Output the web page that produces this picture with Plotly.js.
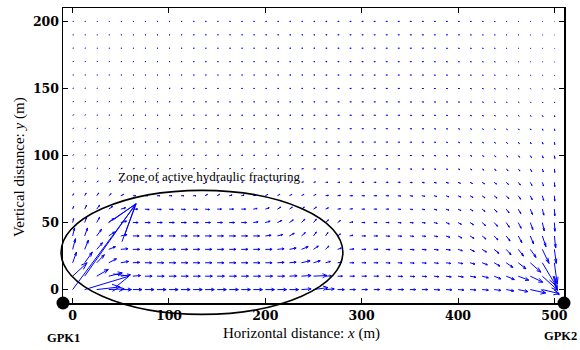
<!DOCTYPE html>
<html><head><meta charset="utf-8">
<script src="https://cdn.plot.ly/plotly-3.0.1.min.js"></script>
<style>html,body{margin:0;padding:0;background:#fff}#chart{width:580px;height:350px}</style>
</head><body><div id="chart"></div>
<script>
// grid of arrow tails (m)
const xGrid = [0,12.5,25,37.5,50,62.5,75,87.5,100,112.5,125,137.5,150,162.5,175,187.5,200,212.5,225,237.5,250,262.5,275,287.5,300,312.5,325,337.5,350,362.5,375,387.5,400,412.5,425,437.5,450,462.5,475,487.5,500];
const yGrid = [0,10,20,30,40,50,60,70,80,90,100,110,120,130,140,150,160,170,180,190,200];

// arrow components (as drawn, in axis units), one row per y
const u_y0 = [66,46,24,16,11, 9.5,9.5,9.5,9.5,9.5, 9.5,9.5,9.5,9.5,9.5, 9.5,9.5,9.5,9.5,10, 15,9,7,6,6, 6,6,6,6,6, 6,6,6,6,6.5, 7,8,10,16,17.5, 5];
const v_y0 = [64,10,2,0.5,0, 0,0,0,0,0, 0,0,0,0,0, 0,0,0,0,0.5, 1.5,0.5,0,0,0, 0,0,0,0,0, -0.2,-0.2,-0.3,-0.3,-0.4, -0.6,-1,-1.5,-2.5,-3, -4];
const u_y10 = [15,53,12,14,10, 8,7.5,7.5,7.5,7.5, 7.5,7.5,7.5,7.5,7.5, 7.5,7.5,7.5,8,10, 14,6,5,5,5, 5,5,5,5,5, 5,5.5,5.5,6,6.5, 7,8.5,11,13,16, 3];
const v_y10 = [10,54,5,2.5,1, 0.5,0,0,0,0, 0,0,0,0,0, 0,0,0,0.3,0.5, 0.5,0.3,0,0,0, 0,-0.2,-0.2,-0.3,-0.3, -0.4,-0.5,-0.6,-0.8,-1.2, -2,-2.5,-3,-4.5,-10.5, -10.5];
const u_y20 = [4,8,8,8,8, 7,7,7,7,7, 7,7,7,7,7, 7,7,7,7,9, 7,5,4.5,4.5,4.5, 4.5,4.5,4.5,4.5,4.5, 4.5,5,5,5,5.5, 6,7,8,11,14, 3];
const v_y20 = [8,8,6,3,1, 0.3,0,0,0,0, 0,0,0,0,0, 0,0,0.3,0.5,1.5, 1.5,1,0.3,0,0, 0,-0.2,-0.2,-0.3,-0.3, -0.4,-0.5,-0.6,-1,-1.5, -2.5,-3.5,-4.5,-7,-17, -16];
const u_y30 = [3,4,6,7,7.5, 7,7,7,7,7, 7,7,7,7,7, 7,7,7,7,7, 5,3.5,4,4.5,4.5, 4.5,4.5,4.5,4.5,4.5, 4.5,4.5,4.5,4.5,4.5, 5,5,5.5,6,7, 2];
const v_y30 = [8,7,5,2,0.5, 0,0,0,0,0, 0,0,0,0,0, 0,0,0.5,1,2, 2.5,2.5,1,0.3,0, 0,-0.2,-0.2,-0.3,-0.3, -0.4,-0.5,-1,-1.5,-2, -3,-4,-5,-6,-10.5, -10.5];
const u_y40 = [2,3,5,6,6.5, 6.5,6.5,6.5,6.5,6.5, 6.5,6.5,6.5,6.5,6.5, 6.5,6,5.5,5,4, 3,2.5,3,3.5,4, 4,4,4,4,4, 4,4,4,4,4, 4,4,3.8,3.5,3.8, 1.4];
const v_y40 = [6,6,5,3,1, 0,0,0,0,0, 0,0,0,0,0, 0,0.5,1,2,2.5, 3,2.5,1.5,0.5,0, 0,-0.2,-0.2,-0.3,-0.3, -0.5,-1,-1.5,-1.8,-2.3, -3,-3.8,-5,-6,-8, -9];
const u_y50 = [1,2,3,5,6, 5.5,5.5,5.5,5.5,5.5, 5.5,5.5,5.5,5.5,5.5, 5,5,4.5,4,3.5, 3,3,3,3.5,3.5, 3.5,3.5,3.5,3.5,3.5, 3.5,3.5,3.5,3.5,3.5, 3.5,3.3,3,2.7,2, 0.6];
const v_y50 = [3,4,4,3,1, 0,0,0,0,0, 0,0,0,0,0, 0.5,1,1.5,2,2.5, 2.5,2,1.5,0.5,0, 0,0,-0.2,-0.2,-0.3, -0.6,-1,-1.3,-1.7,-2.2, -2.8,-3.5,-4.3,-5.2,-6.2, -6.5];
const u_y60 = [1,2,3,4,5, 5,4.5,4.5,4.5,4.5, 4.5,4.5,4.5,4.5,4.5, 4,4,3.5,3,3, 3,3,3,3,3, 3,3,3,3,3, 3,3,3,3,3, 3,3,2.7,2.3,1.6, 0.5];
const v_y60 = [2,3,3,2,1, 0,-0.3,-0.3,-0.3,-0.3, -0.3,-0.3,0,0,0, 0.5,1,1.5,1.5,1.5, 1.5,1,0.3,0.3,0, 0,0,-0.2,-0.3,-0.4, -0.6,-0.8,-1,-1.3,-1.7, -2.2,-2.8,-3.3,-4,-4.5, -5];
const u_y70 = [1,1.5,2,2.5,3, 3,3,3,3,3, 3,2.5,2.5,3,3, 3,2.5,2.5,2.5,2.5, 2.5,3,3,3,3, 3,3,3,3,3, 3,3,3,3,3, 3,2.8,2.5,2,1.4, 0.4];
const v_y70 = [1.5,2,2,1.5,1, 0,0,0,0,0, 0,1,1,0.5,0.5, 0.5,1,1,1,1, 1,0.3,0.3,0,0, 0,0,-0.2,-0.3,-0.4, -0.6,-0.8,-1,-1.3,-1.6, -1.8,-2.2,-2.6,-3,-3.5, -4];
const u_y80 = [0.8,1,1.5,2,2, 2,2,2,2,2, 2,2,2,2,2, 2,2,2,2,2, 2,2.5,2.5,2.5,2.5, 2.5,2.5,2.5,2.5,2.5, 2.5,2.5,2.5,2.5,2.5, 2.5,2.4,2.2,1.8,1.3, 0.4];
const v_y80 = [1,1,1,1,0.5, 0.3,0.3,0.3,0.3,0.3, 0.3,0.3,0.3,0.3,0.3, 0.3,0.3,0.3,0.3,0.3, 0.3,0,0,0,0, 0,0,0,-0.2,-0.3, -0.4,-0.5,-0.7,-0.9,-1.1, -1.3,-1.6,-2,-2.4,-2.8, -3.2];
const u_y90 = [0.9,0.9,1,1.2,1.5, 1.5,1.5,1.5,1.5,1.5, 1.5,1.5,1.5,1.5,1.5, 1.5,1.5,1.5,1.5,2, 2,2,2,2,2, 2,2,2,2,2, 2,2,2,2,2, 2,2,1.8,1.5,1.1, 0.4];
const v_y90 = [0.7,0.7,0.7,0.5,0.5, 0.3,0.3,0.3,0.3,0.3, 0.3,0.3,0.3,0.3,0.3, 0.3,0.3,0.3,0.3,0.2, 0,0,0,0,0, 0,0,0,-0.2,-0.2, -0.3,-0.4,-0.5,-0.7,-0.9, -1.1,-1.3,-1.6,-2,-2.3, -2.6];
const u_y100 = [0.9,0.9,1,1,1.1, 1.1,1.2,1.2,1.2,1.3, 1.3,1.3,1.4,1.4,1.5, 1.5,1.5,1.6,1.6,1.7, 1.8,1.8,1.8,1.8,1.8, 1.8,1.8,1.8,1.8,1.8, 1.8,1.8,1.8,1.8,1.8, 1.8,1.6,1.4,1.2,0.9, 0.5];
const v_y100 = [0.5,0.5,0.4,0.3,0.3, 0.2,0.2,0.2,0.2,0.2, 0.2,0.2,0.2,0.2,0.2, 0.2,0.2,0.2,0.2,0, 0,0,0,0,0, 0,0,0,0,-0.2, -0.2,-0.3,-0.4,-0.5,-0.7, -0.9,-1.1,-1.3,-1.6,-1.9, -2.2];
const u_y110 = [0.9,0.9,1,1,1.1, 1.1,1.2,1.2,1.2,1.3, 1.3,1.3,1.4,1.4,1.5, 1.5,1.5,1.6,1.6,1.7, 1.7,1.7,1.8,1.8,1.8, 1.8,1.8,1.8,1.8,1.8, 1.8,1.7,1.7,1.6,1.5, 1.4,1.3,1.1,0.9,0.7, 0.4];
const v_y110 = [0.4,0.4,0.3,0.3,0.2, 0.2,0.2,0.2,0.1,0.1, 0.1,0.1,0.1,0.1,0.1, 0.1,0,0,0,0, 0,0,0,0,0, 0,0,-0.1,-0.1,-0.2, -0.2,-0.3,-0.4,-0.5,-0.6, -0.8,-1,-1.1,-1.3,-1.5, -1.8];
const u_y120 = [0.9,0.9,1,1,1.1, 1.1,1.2,1.2,1.2,1.3, 1.3,1.3,1.4,1.4,1.5, 1.5,1.5,1.6,1.6,1.7, 1.7,1.7,1.8,1.8,1.8, 1.8,1.8,1.8,1.8,1.8, 1.7,1.7,1.6,1.5,1.4, 1.3,1.2,1,0.8,0.6, 0.4];
const v_y120 = [0.3,0.3,0.3,0.2,0.2, 0.2,0.1,0.1,0.1,0.1, 0.1,0.1,0.1,0.1,0.1, 0,0,0,0,0, 0,0,0,0,0, 0,0,-0.1,-0.1,-0.1, -0.2,-0.2,-0.3,-0.4,-0.5, -0.6,-0.8,-0.9,-1,-1.2, -1.4];
const u_y130 = [0.9,0.9,1,1,1.1, 1.1,1.2,1.2,1.2,1.3, 1.3,1.3,1.4,1.4,1.5, 1.5,1.5,1.6,1.6,1.7, 1.7,1.7,1.8,1.8,1.8, 1.8,1.8,1.8,1.8,1.8, 1.7,1.7,1.6,1.5,1.4, 1.3,1.2,1,0.8,0.6, 0.4];
const v_y130 = [0.3,0.3,0.2,0.2,0.2, 0.1,0.1,0.1,0.1,0.1, 0.1,0.1,0.1,0.1,0, 0,0,0,0,0, 0,0,0,0,0, 0,0,0,-0.1,-0.1, -0.1,-0.2,-0.2,-0.3,-0.4, -0.5,-0.6,-0.7,-0.8,-0.9, -1.1];
const u_y140 = [0.9,0.9,0.9,1,1, 1.1,1.1,1.1,1.2,1.2, 1.2,1.3,1.3,1.3,1.4, 1.4,1.4,1.5,1.5,1.6, 1.6,1.7,1.7,1.7,1.7, 1.7,1.7,1.7,1.7,1.7, 1.6,1.6,1.5,1.4,1.3, 1.2,1,0.9,0.7,0.6, 0.4];
const v_y140 = [0.2,0.2,0.2,0.2,0.1, 0.1,0.1,0.1,0.1,0.1, 0.1,0,0,0,0, 0,0,0,0,0, 0,0,0,0,0, 0,0,0,-0.1,-0.1, -0.1,-0.1,-0.2,-0.2,-0.3, -0.4,-0.5,-0.6,-0.6,-0.7, -0.8];
const u_y150 = [0.9,0.9,0.9,1,1, 1.1,1.1,1.1,1.2,1.2, 1.2,1.3,1.3,1.3,1.4, 1.4,1.4,1.5,1.5,1.6, 1.6,1.7,1.7,1.7,1.7, 1.7,1.7,1.7,1.7,1.7, 1.6,1.6,1.5,1.4,1.3, 1.2,1,0.9,0.7,0.6, 0.4];
const v_y150 = [0.2,0.2,0.2,0.1,0.1, 0.1,0.1,0.1,0.1,0, 0,0,0,0,0, 0,0,0,0,0, 0,0,0,0,0, 0,0,0,0,-0.1, -0.1,-0.1,-0.1,-0.2,-0.2, -0.3,-0.4,-0.4,-0.5,-0.5, -0.6];
const u_y160 = [0.9,0.9,0.9,0.9,1, 1,1,1.1,1.1,1.1, 1.2,1.2,1.2,1.3,1.3, 1.3,1.4,1.4,1.5,1.5, 1.5,1.6,1.6,1.6,1.6, 1.6,1.6,1.6,1.6,1.6, 1.5,1.5,1.4,1.3,1.2, 1.1,0.9,0.8,0.7,0.6, 0.4];
const v_y160 = [0.1,0.1,0.1,0.1,0.1, 0.1,0,0,0,0, 0,0,0,0,0, 0,0,0,0,0, 0,0,0,0,0, 0,0,0,0,0, -0.1,-0.1,-0.1,-0.1,-0.2, -0.2,-0.3,-0.3,-0.4,-0.4, -0.5];
const u_y170 = [0.9,0.9,0.9,0.9,1, 1,1,1.1,1.1,1.1, 1.2,1.2,1.2,1.3,1.3, 1.3,1.4,1.4,1.5,1.5, 1.5,1.6,1.6,1.6,1.6, 1.6,1.6,1.6,1.6,1.6, 1.5,1.5,1.4,1.3,1.2, 1.1,0.9,0.8,0.7,0.6, 0.4];
const v_y170 = [0.1,0.1,0.1,0.1,0, 0,0,0,0,0, 0,0,0,0,0, 0,0,0,0,0, 0,0,0,0,0, 0,0,0,0,0, -0.1,-0.1,-0.1,-0.1,-0.2, -0.2,-0.2,-0.3,-0.3,-0.3, -0.4];
const u_y180 = [0.9,0.9,0.9,0.9,1, 1,1,1.1,1.1,1.1, 1.2,1.2,1.2,1.3,1.3, 1.3,1.4,1.4,1.5,1.5, 1.5,1.6,1.6,1.6,1.6, 1.6,1.6,1.6,1.6,1.6, 1.5,1.5,1.4,1.3,1.2, 1.1,0.9,0.8,0.7,0.6, 0.4];
const v_y180 = [0.1,0.1,0,0,0, 0,0,0,0,0, 0,0,0,0,0, 0,0,0,0,0, 0,0,0,0,0, 0,0,0,0,0, 0,-0.1,-0.1,-0.1,-0.1, -0.1,-0.2,-0.2,-0.2,-0.2, -0.3];
const u_y190 = [0.9,0.9,0.9,0.9,1, 1,1,1.1,1.1,1.1, 1.2,1.2,1.2,1.3,1.3, 1.3,1.4,1.4,1.5,1.5, 1.5,1.6,1.6,1.6,1.6, 1.6,1.6,1.6,1.6,1.6, 1.5,1.5,1.4,1.3,1.2, 1.1,0.9,0.8,0.7,0.6, 0.4];
const v_y190 = [0,0,0,0,0, 0,0,0,0,0, 0,0,0,0,0, 0,0,0,0,0, 0,0,0,0,0, 0,0,0,0,0, 0,0,0,-0.1,-0.1, -0.1,-0.1,-0.1,-0.2,-0.2, -0.2];
const u_y200 = [0.9,0.9,0.9,0.9,1, 1,1,1.1,1.1,1.1, 1.2,1.2,1.2,1.3,1.3, 1.3,1.4,1.4,1.5,1.5, 1.5,1.6,1.6,1.6,1.6, 1.6,1.6,1.6,1.6,1.6, 1.5,1.5,1.4,1.3,1.2, 1.1,0.9,0.8,0.7,0.6, 0.4];
const v_y200 = [0,0,0,0,0, 0,0,0,0,0, 0,0,0,0,0, 0,0,0,0,0, 0,0,0,0,0, 0,0,0,0,0, 0,0,0,0,0, -0.1,-0.1,-0.1,-0.1,-0.1, -0.2];

const xTicks = [0,100,200,300,400,500];
const yTicks = [0,50,100,150,200];
const wellNames = ['GPK1','GPK2'];
const wellX = [-10, 510];
const wellY = [-10, -10];
const zoneLabel = 'Zone of active hydraulic fracturing';
const zoneEllipse = {x0:-12, x1:280.5, y0:-18.5, y1:74};

const uRows = [u_y0,u_y10,u_y20,u_y30,u_y40,u_y50,u_y60,u_y70,u_y80,u_y90,u_y100,u_y110,u_y120,u_y130,u_y140,u_y150,u_y160,u_y170,u_y180,u_y190,u_y200];
const vRows = [v_y0,v_y10,v_y20,v_y30,v_y40,v_y50,v_y60,v_y70,v_y80,v_y90,v_y100,v_y110,v_y120,v_y130,v_y140,v_y150,v_y160,v_y170,v_y180,v_y190,v_y200];

// quiver geometry (shaft + arrowhead), MATLAB-style head
const alpha = 0.33, beta = 0.33;
const qx = [], qy = [];
for (let j = 0; j < yGrid.length; j++) {
  for (let i = 0; i < xGrid.length; i++) {
    const x = xGrid[i], y = yGrid[j], u = uRows[j][i], v = vRows[j][i];
    const tx = x + u, ty = y + v;
    qx.push(x, tx, null); qy.push(y, ty, null);
    qx.push(tx - alpha*(u + beta*v), tx, tx - alpha*(u - beta*v), null);
    qy.push(ty - alpha*(v - beta*u), ty, ty - alpha*(v + beta*u), null);
  }
}

const xr = [-10, 510], yr = [-10, 210];
const px = v => (v - xr[0]) / (xr[1] - xr[0]);
const py = v => (v - yr[0]) / (yr[1] - yr[0]);

const serif = 'Liberation Serif, Times New Roman, serif';
const traces = [
  {type:'scatter', mode:'lines', x:qx, y:qy, line:{color:'#0000ff', width:1}, hoverinfo:'skip', connectgaps:false},
  {type:'scatter', mode:'markers', x:wellX, y:wellY, cliponaxis:false, marker:{color:'#000', size:13}, hoverinfo:'skip'}
];

const axisCommon = {
  ticks:'inside', ticklen:5, tickwidth:1, tickcolor:'#000',
  showline:true, linecolor:'#000', linewidth:1.5, mirror:'ticks',
  showgrid:false, zeroline:false,
  tickfont:{family:'DejaVu Serif, serif', size:12.5, weight:'bold', color:'#000'}
};

const layout = {
  width:580, height:350,
  margin:{l:63, r:16, t:8, b:47},
  paper_bgcolor:'#fff', plot_bgcolor:'#fff', showlegend:false,
  xaxis:Object.assign({range:xr, tickvals:xTicks, ticktext:xTicks.map(String)}, axisCommon),
  yaxis:Object.assign({range:yr, tickvals:yTicks, ticktext:yTicks.map(String)}, axisCommon),
  shapes:[{type:'circle', xref:'paper', yref:'paper',
    x0:px(zoneEllipse.x0), x1:px(zoneEllipse.x1), y0:py(zoneEllipse.y0), y1:py(zoneEllipse.y1),
    line:{color:'#000', width:1.6}, fillcolor:'rgba(0,0,0,0)'}],
  annotations:[
    {text:zoneLabel, x:142, y:84.6, xref:'x', yref:'y', showarrow:false,
     font:{family:serif, size:13, color:'#000'}},
    {text:'Horizontal distance: <i>x</i> (m)', x:0.477, y:-0.105, xref:'paper', yref:'paper', showarrow:false,
     xanchor:'center', yanchor:'middle', font:{family:serif, size:15, color:'#000'}},
    {text:'Vertical distance: <i>y</i> (m)', x:-0.088, y:0.461, xref:'paper', yref:'paper', showarrow:false,
     textangle:-90, xanchor:'center', yanchor:'middle', font:{family:serif, size:15, color:'#000'}},
    {text:'<b>'+wellNames[0]+'</b>', x:0.0, y:-0.119, xref:'paper', yref:'paper', showarrow:false,
     xanchor:'center', yanchor:'middle', font:{family:serif, size:12.5, color:'#000'}},
    {text:'<b>'+wellNames[1]+'</b>', x:1.0, y:-0.112, xref:'paper', yref:'paper', showarrow:false,
     xanchor:'right', yanchor:'middle', xshift:15, font:{family:serif, size:12.5, color:'#000'}}
  ]
};

Plotly.newPlot('chart', traces, layout, {staticPlot:true, displayModeBar:false});
</script>
</body></html>
